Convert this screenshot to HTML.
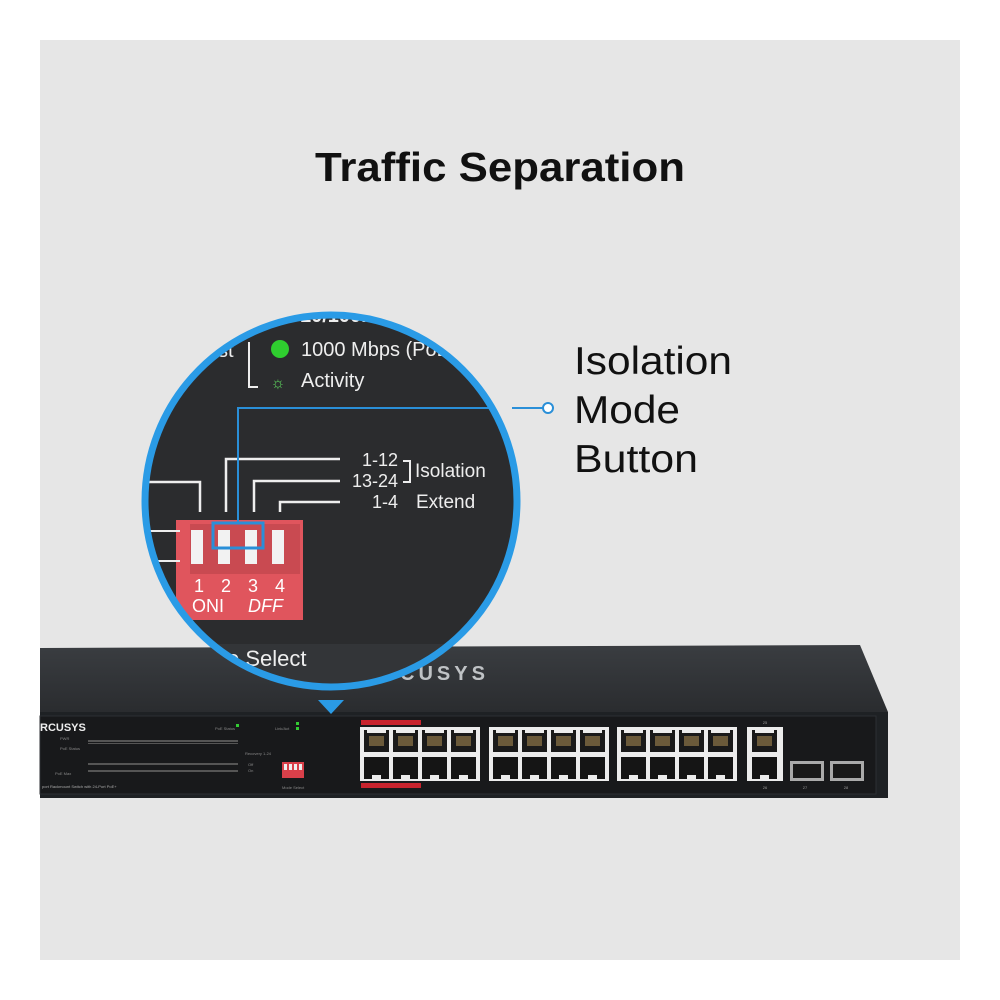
<!DOCTYPE html>
<html><head><meta charset="utf-8"><style>
html,body{margin:0;padding:0;background:#fff;}
svg{display:block}
text{font-family:"Liberation Sans",sans-serif}
</style></head><body>
<svg width="1000" height="1000" viewBox="0 0 1000 1000" xmlns="http://www.w3.org/2000/svg">
<defs>
<clipPath id="cc"><circle cx="331" cy="501" r="186"/></clipPath>
<linearGradient id="top" x1="0" y1="0" x2="0" y2="1"><stop offset="0" stop-color="#3a3d41"/><stop offset="1" stop-color="#2a2c2f"/></linearGradient>
<g id="pu"><rect width="25" height="22" fill="#1a1a1a"/><rect x="5" y="6" width="15" height="10" fill="#6b5a3a"/><rect x="3" y="0" width="19" height="3" fill="#ececec"/></g>
<g id="pd"><rect width="25" height="22" fill="#151515"/><rect x="8" y="18" width="9" height="4" fill="#ececec"/></g>
</defs>
<rect x="0" y="0" width="1000" height="1000" fill="#fff"/>
<rect x="40" y="40" width="920" height="920" fill="#e6e6e6"/>
<text x="315" y="181" font-size="41" font-weight="bold" fill="#111" textLength="370" lengthAdjust="spacingAndGlyphs">Traffic Separation</text>
<text x="574" y="374" font-size="39" fill="#111" textLength="158" lengthAdjust="spacingAndGlyphs">Isolation</text>
<text x="574" y="423" font-size="39" fill="#111" textLength="106" lengthAdjust="spacingAndGlyphs">Mode</text>
<text x="574" y="472" font-size="39" fill="#111" textLength="124" lengthAdjust="spacingAndGlyphs">Button</text>

<polygon points="40,648 860,645 888,712 40,712" fill="url(#top)"/>
<text x="400" y="680" font-size="20" font-weight="bold" fill="#bfc2c5" letter-spacing="4">CUSYS</text>
<rect x="40" y="712" width="848" height="86" fill="#1e2124"/>
<rect x="40" y="716" width="836" height="78" fill="#18191b" stroke="#2c2f33"/>
<text x="40" y="731" font-size="11" font-weight="bold" fill="#eee">RCUSYS</text>
<text x="42" y="788" font-size="4" fill="#aaa">port Rackmount Switch with 24-Port PoE+</text>
<g fill="#555">
<rect x="88" y="740" width="150" height="2"/><rect x="88" y="763" width="150" height="2"/>
<rect x="88" y="770" width="150" height="2"/><rect x="88" y="743" width="150" height="1"/>
</g>
<g fill="#888" font-size="4"><text x="60" y="740">PWR</text><text x="60" y="750">PoE Status</text><text x="55" y="775">PoE Max</text>
<text x="215" y="730">PoE Status</text><text x="275" y="730">Link/Act</text><text x="245" y="755">Recovery 1-24</text><text x="248" y="766">Off</text><text x="248" y="772">On</text><text x="282" y="789">Mode Select</text></g>
<rect x="282" y="762" width="22" height="16" fill="#d9404a"/>
<g fill="#eee"><rect x="284" y="764" width="3" height="6"/><rect x="289" y="764" width="3" height="6"/><rect x="294" y="764" width="3" height="6"/><rect x="299" y="764" width="3" height="6"/></g>
<g fill="#3c3"><rect x="236" y="724" width="3" height="3"/><rect x="296" y="722" width="3" height="3"/><rect x="296" y="727" width="3" height="3"/></g>
<rect x="361" y="720" width="60" height="5" fill="#c8232d"/>
<rect x="361" y="783" width="60" height="5" fill="#c8232d"/>
<rect x="360" y="727" width="120" height="54" fill="#ececec"/>
<rect x="489" y="727" width="120" height="54" fill="#ececec"/>
<rect x="617" y="727" width="120" height="54" fill="#ececec"/>
<rect x="747" y="727" width="36" height="54" fill="#ececec"/>
<g>
<use href="#pu" x="364" y="730"/><use href="#pu" x="393" y="730"/><use href="#pu" x="422" y="730"/><use href="#pu" x="451" y="730"/>
<use href="#pd" x="364" y="757"/><use href="#pd" x="393" y="757"/><use href="#pd" x="422" y="757"/><use href="#pd" x="451" y="757"/>
<use href="#pu" x="493" y="730"/><use href="#pu" x="522" y="730"/><use href="#pu" x="551" y="730"/><use href="#pu" x="580" y="730"/>
<use href="#pd" x="493" y="757"/><use href="#pd" x="522" y="757"/><use href="#pd" x="551" y="757"/><use href="#pd" x="580" y="757"/>
<use href="#pu" x="621" y="730"/><use href="#pu" x="650" y="730"/><use href="#pu" x="679" y="730"/><use href="#pu" x="708" y="730"/>
<use href="#pd" x="621" y="757"/><use href="#pd" x="650" y="757"/><use href="#pd" x="679" y="757"/><use href="#pd" x="708" y="757"/>
<use href="#pu" x="752" y="730"/><use href="#pd" x="752" y="757"/>
</g>
<rect x="790" y="761" width="34" height="20" fill="#aaa"/><rect x="793" y="764" width="28" height="14" fill="#1a1a1a"/>
<rect x="830" y="761" width="34" height="20" fill="#aaa"/><rect x="833" y="764" width="28" height="14" fill="#1a1a1a"/>
<g fill="#999" font-size="4" text-anchor="middle"><text x="805" y="789">27</text><text x="846" y="789">28</text><text x="765" y="789">26</text><text x="765" y="724">25</text></g>

<polygon points="318,700 344,700 331,714" fill="#2a9be6"/>
<g clip-path="url(#cc)">
<rect x="140" y="310" width="400" height="400" fill="#2b2c2e"/>
<polygon points="140,644 540,644 540,720 140,720" fill="#333538"/>
<rect x="140" y="700" width="400" height="20" fill="#1a1b1d"/>
<text x="400" y="680" font-size="16" font-weight="bold" fill="#bfc2c5" letter-spacing="4">CUSYS</text>
<text x="300" y="322" font-size="20" font-weight="bold" fill="#eee">10/100...</text>
<circle cx="280" cy="349" r="9" fill="#2fce2f"/>
<text x="301" y="356" font-size="20" fill="#eee">1000 Mbps (PoE</text>
<text x="301" y="387" font-size="20" fill="#eee">Activity</text>
<text x="278" y="388" font-size="16" fill="#5fd85f" text-anchor="middle">☼</text>
<path d="M249,342 V387 H258" stroke="#eee" stroke-width="2" fill="none"/>
<text x="218" y="357" font-size="20" fill="#eee">st</text>
<text x="398" y="466" font-size="18" fill="#eee" text-anchor="end">1-12</text>
<text x="398" y="487" font-size="18" fill="#eee" text-anchor="end">13-24</text>
<text x="398" y="508" font-size="18" fill="#eee" text-anchor="end">1-4</text>
<path d="M403,461 H410 V482 H403" stroke="#eee" stroke-width="2" fill="none"/>
<text x="415" y="477" font-size="19" fill="#eee">Isolation</text>
<text x="416" y="508" font-size="19" fill="#eee">Extend</text>
<g stroke="#eee" stroke-width="2.5" fill="none">
<path d="M340,459 H226 V512"/>
<path d="M340,481 H254 V512"/>
<path d="M340,502 H280 V512"/>
<path d="M140,482 H200 V512"/>
</g>
<rect x="176" y="520" width="127" height="100" fill="#e0555d"/>
<rect x="190" y="524" width="110" height="50" fill="#c94a51"/>
<g fill="#f2f2f2"><rect x="191" y="530" width="12" height="34"/><rect x="218" y="530" width="12" height="34"/><rect x="245" y="530" width="12" height="34"/><rect x="272" y="530" width="12" height="34"/></g>
<rect x="140" y="530" width="40" height="2" fill="#eee"/><rect x="140" y="560" width="40" height="2" fill="#eee"/>
<text x="194" y="592" font-size="18" fill="#fff">1</text><text x="221" y="592" font-size="18" fill="#fff">2</text><text x="248" y="592" font-size="18" fill="#fff">3</text><text x="275" y="592" font-size="18" fill="#fff">4</text>
<text x="192" y="612" font-size="18" fill="#fff">ONI</text><text x="248" y="612" font-size="18" font-style="italic" fill="#fff">DFF</text>
<text x="227" y="666" font-size="22" fill="#eee">o Select</text>
<rect x="213" y="523" width="50" height="25" fill="none" stroke="#2a8fd8" stroke-width="3"/>
<path d="M238,523 V408 H520" stroke="#2a8fd8" stroke-width="2" fill="none"/>
</g>
<circle cx="331" cy="501" r="186" fill="none" stroke="#2a9be6" stroke-width="7"/>
<path d="M512,408 H543" stroke="#2a8fd8" stroke-width="2"/>
<circle cx="548" cy="408" r="5" fill="#fff" stroke="#2a8fd8" stroke-width="2"/>
</svg>
</body></html>
